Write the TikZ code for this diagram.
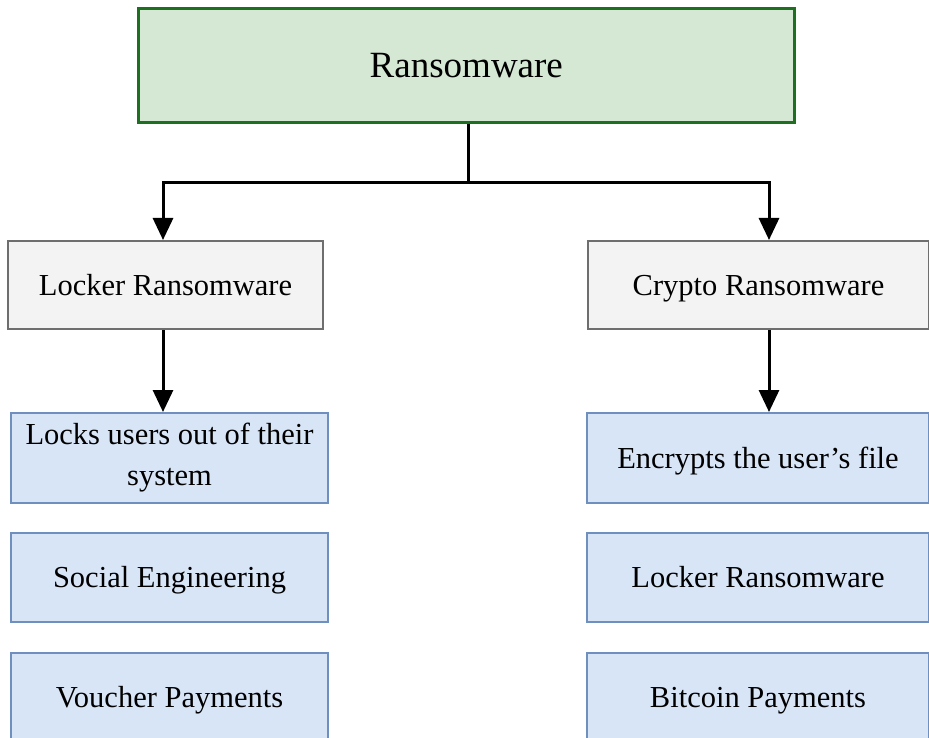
\documentclass[tikz,border=0pt]{standalone}
\usepackage{fontspec}
\setmainfont{Liberation Serif}
\usetikzlibrary{arrows.meta}

\definecolor{rootfill}{HTML}{D5E8D4}
\definecolor{rootline}{HTML}{1E6F22}
\definecolor{typefill}{HTML}{F3F3F3}
\definecolor{typeline}{HTML}{6E6E6E}
\definecolor{itemfill}{HTML}{D8E5F7}
\definecolor{itemline}{HTML}{6F8FBF}

\tikzset{
  box/.style={draw, anchor=north west, inner sep=0pt, align=center,
    font=\fontsize{30.5}{41}\selectfont, text=black},
  oneline/.style={text height=25pt, text depth=5pt},
  rootbox/.style={box, fill=rootfill, draw=rootline, line width=2.6pt,
    font=\fontsize{37}{44}\selectfont},
  typebox/.style={box, oneline, fill=typefill, draw=typeline, line width=2pt},
  itembox/.style={box, fill=itemfill, draw=itemline, line width=2pt},
  conn/.style={line width=3pt, black},
  tip/.style={conn, -{Triangle[width=20pt,length=22pt]}}
}

\begin{document}
\begin{tikzpicture}[x=1pt,y=-1pt]
  \useasboundingbox (0,0) rectangle (929,738);
  \fill[white] (0,0) rectangle (929,738);
  \clip (0,0) rectangle (929,738);

  % root of the tree
  \node[rootbox, minimum width=656pt, minimum height=114pt] (root) at (137,7) {Ransomware};

  % the two families
  \node[typebox, minimum width=315pt, minimum height=88pt] (locker) at (7,240) {Locker Ransomware};
  \node[typebox, minimum width=341pt, minimum height=88pt] (crypto) at (587,240) {Crypto Ransomware};

  % traits of locker ransomware
  \node[itembox, minimum width=317pt, minimum height=90pt] (locks) at (10,412) {Locks users out of their\\system};
  \node[itembox, oneline, minimum width=317pt, minimum height=89pt] (social) at (10,532) {Social Engineering};
  \node[itembox, oneline, minimum width=317pt, minimum height=89pt] (voucher) at (10,652) {Voucher Payments};

  % traits of crypto ransomware
  \node[itembox, oneline, minimum width=342pt, minimum height=90pt] (encrypts) at (586,412) {Encrypts the user’s file};
  \node[itembox, oneline, minimum width=342pt, minimum height=89pt] (lockerb) at (586,532) {Locker Ransomware};
  \node[itembox, oneline, minimum width=342pt, minimum height=89pt] (bitcoin) at (586,652) {Bitcoin Payments};

  % connector columns
  \coordinate (hub) at (468,183);
  \coordinate (lx) at (163,0);
  \coordinate (rx) at (769,0);

  \draw[conn] (root.south -| hub) -- (hub);
  \draw[tip] (hub) -| (locker.north -| lx);
  \draw[tip] (hub) -| (crypto.north -| rx);
  \draw[tip] (locker.south -| lx) -- (locks.north -| lx);
  \draw[tip] (crypto.south -| rx) -- (encrypts.north -| rx);
\end{tikzpicture}
\end{document}
